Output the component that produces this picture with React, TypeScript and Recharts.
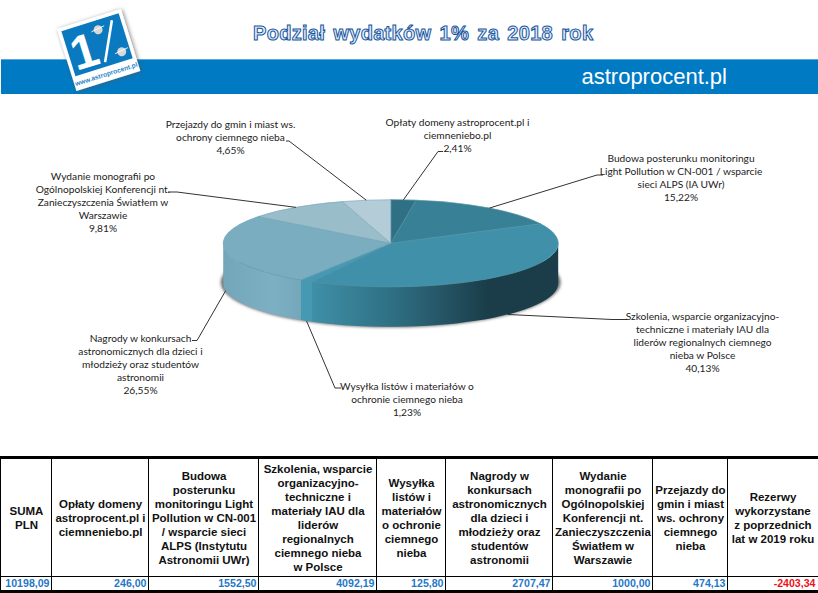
import * as React from 'react';
import { Pie, PieChart } from 'recharts';

const SLICE_NAMES = [
  'Opłaty domeny',
  'Budowa posterunku',
  'Szkolenia',
  'Wysyłka listów',
  'Nagrody',
  'Wydanie monografii',
  'Przejazdy',
];
const SLICE_VALUES = [246.0, 1552.5, 4092.19, 125.8, 2707.47, 1000.0, 474.13];
const SLICE_COLORS = ['#2f7085', '#388096', '#3f90a8', '#4599b3', '#7aadc0', '#9abdca', '#b4ccd7'];
const SLICE_LABELS = [
  ['Opłaty domeny astroprocent.pl i', 'ciemneniebo.pl', '2,41%'],
  ['Budowa posterunku monitoringu', 'Light Pollution w CN-001 / wsparcie', 'sieci ALPS (IA UWr)', '15,22%'],
  ['Szkolenia, wsparcie organizacyjno-', 'techniczne i materiały IAU dla', 'liderów regionalnych ciemnego', 'nieba w Polsce', '40,13%'],
  ['Wysyłka listów i materiałów o', 'ochronie ciemnego nieba', '1,23%'],
  ['Nagrody w konkursach', 'astronomicznych dla dzieci i', 'młodzieży oraz studentów', 'astronomii', '26,55%'],
  ['Wydanie monografii po', 'Ogólnopolskiej Konferencji nt.', 'Zanieczyszczenia Światłem w', 'Warszawie', '9,81%'],
  ['Przejazdy do gmin i miast ws.', 'ochrony ciemnego nieba', '4,65%'],
];

const TABLE_HEADERS = [
  ['SUMA', 'PLN'],
  ['Opłaty domeny', 'astroprocent.pl i', 'ciemneniebo.pl'],
  ['Budowa', 'posterunku', 'monitoringu Light', 'Pollution w CN-001', '/ wsparcie sieci', 'ALPS (Instytutu', 'Astronomii UWr)'],
  ['Szkolenia, wsparcie', 'organizacyjno-', 'techniczne i', 'materiały IAU dla', 'liderów', 'regionalnych', 'ciemnego nieba', 'w Polsce'],
  ['Wysyłka', 'listów i', 'materiałów', 'o ochronie', 'ciemnego', 'nieba'],
  ['Nagrody w', 'konkursach', 'astronomicznych', 'dla dzieci i', 'młodzieży oraz', 'studentów', 'astronomii'],
  ['Wydanie', 'monografii po', 'Ogólnopolskiej', 'Konferencji nt.', 'Zanieczyszczenia', 'Światłem w', 'Warszawie'],
  ['Przejazdy do', 'gmin i miast', 'ws. ochrony', 'ciemnego', 'nieba'],
  ['Rezerwy', 'wykorzystane', 'z poprzednich', 'lat w 2019 roku'],
];
const TABLE_VALUES = ['10198,09', '246,00', '1552,50', '4092,19', '125,80', '2707,47', '1000,00', '474,13', '-2403,34'];

// layout only: column edges of the table, label boxes and leader elbows
const COLUMN_EDGES = [1, 52, 149, 259, 377, 446, 553, 653, 728, 818];
const LABEL_CENTERS = [
  [457.5, 125.5],
  [681, 162],
  [702.5, 320],
  [407, 389.5],
  [140.5, 341.5],
  [103, 179.5],
  [230.5, 128],
];
const LEADER_ELBOWS = [
  [[438, 151.5], [443, 151.5]],
  [[597, 175], [603, 175]],
  [[612, 319.5], [627, 319.5]],
  [[335, 388], [341, 388]],
  [[197, 340.5], [192, 340.5]],
  [[177, 192], [168, 192]],
  [[289, 141], [286, 141]],
];

const PIE_CX = 390.7;
const PIE_CY = 243.3;
const PIE_R = 167.5;
const SQUASH = 0.26;
const DEPTH = 40;

const RAD = Math.PI / 180;
const px = (cx: number, r: number, a: number) => cx + r * Math.cos(a * RAD);
const py = (cy: number, r: number, a: number) => cy - r * SQUASH * Math.sin(a * RAD);

function wallFill(index: number, fill: string) {
  if (index === 2) return 'url(#wallDark)';
  if (index === 4) return 'url(#wallLight)';
  return fill;
}

// Pie sector squashed to an ellipse, with the front wall of the 3D disc under it
function renderSlice(props: any) {
  const { cx, cy, outerRadius: r, startAngle, endAngle, fill, index } = props;
  const large = Math.abs(startAngle - endAngle) > 180 ? 1 : 0;
  const ry = r * SQUASH;
  const top = `M${cx},${cy} L${px(cx, r, startAngle)},${py(cy, r, startAngle)} A${r},${ry} 0 ${large} 1 ${px(cx, r, endAngle)},${py(cy, r, endAngle)} Z`;

  const a0 = Math.min(startAngle, 0);
  const a1 = Math.max(endAngle, -180);
  let wall = null;
  if (a0 > a1) {
    const x0 = px(cx, r, a0);
    const y0 = py(cy, r, a0);
    const x1 = px(cx, r, a1);
    const y1 = py(cy, r, a1);
    wall = `M${x0},${y0} A${r},${ry} 0 0 1 ${x1},${y1} L${x1},${y1 + DEPTH} A${r},${ry} 0 0 0 ${x0},${y0 + DEPTH} Z`;
  }

  return (
    <g>
      {index === 0 && (
        <>
          <defs>
            <linearGradient id="wallDark" gradientUnits="userSpaceOnUse" x1={cx - 80} x2={cx + 97} y1="0" y2="0">
              <stop offset="0" stopColor="#3f90a8" />
              <stop offset="0.45" stopColor="#2f7084" />
              <stop offset="0.7" stopColor="#27596a" />
              <stop offset="1" stopColor="#1a3d49" />
            </linearGradient>
            <linearGradient id="wallLight" gradientUnits="userSpaceOnUse" x1={cx - r} x2={cx - 90} y1="0" y2="0">
              <stop offset="0" stopColor="#74a6b9" />
              <stop offset="0.65" stopColor="#7eb0c3" />
              <stop offset="1" stopColor="#74a7ba" />
            </linearGradient>
            <filter id="pieShadow" x="-10%" y="-30%" width="120%" height="160%">
              <feGaussianBlur stdDeviation="1.6" />
            </filter>
          </defs>
          <ellipse cx={cx} cy={cy + DEPTH - 1} rx={r + 2.5} ry={ry + 1.5} fill="#6e6e6e" filter="url(#pieShadow)" />
        </>
      )}
      {wall && <path d={wall} fill={wallFill(index, fill)} />}
      <path d={top} fill={fill} stroke={fill} strokeWidth={0.5} />
      <path d={top} fill="none" stroke="#5f98ac" strokeWidth={0.4} />
    </g>
  );
}

// leader runs from the disc rim at the slice middle to the elbow beside its text
function renderLabel(props: any) {
  const { cx, cy, outerRadius: r, midAngle, index } = props;
  const [lx, ly] = LABEL_CENTERS[index];
  const ax = px(cx, r, midAngle);
  const ay = py(cy, r, midAngle) + (Math.sin(midAngle * RAD) < 0 ? DEPTH : 0);
  const [e1, e2] = LEADER_ELBOWS[index];
  return (
    <g>
      <polyline
        points={`${ax},${ay} ${e1[0]},${e1[1]} ${e2[0]},${e2[1]}`}
        fill="none"
        stroke="#333"
        strokeWidth={1}
      />
      <text x={lx} y={ly} textAnchor="middle" fontFamily="Lato" fontSize={10.2} fill="#1c1c1c">
        {SLICE_LABELS[index].map((line, i) => (
          <tspan key={i} x={lx} dy={i === 0 ? 0 : 13}>
            {line}
          </tspan>
        ))}
      </text>
    </g>
  );
}

function Header() {
  return (
    <svg width={818} height={110} style={{ position: 'absolute', left: 0, top: 0 }}>
      <defs>
        <filter id="logoShadow" x="-20%" y="-20%" width="140%" height="140%">
          <feDropShadow dx="1" dy="1" stdDeviation="2.2" floodColor="#555" floodOpacity="0.7" />
        </filter>
      </defs>
      <rect x={1} y={59} width={817} height={35} fill="#007ac3" />
      <rect x={1} y={59} width={817} height={1} fill="#5aa9dc" />
      <text x={727} y={84} textAnchor="end" fontFamily="Liberation Sans" fontSize={22} fill="#fff">
        astroprocent.pl
      </text>
      <text
        x={253}
        y={40}
        fontFamily="Liberation Sans"
        fontWeight="bold"
        fontSize={20}
        fill="#e6edf6"
        stroke="#15569f"
        strokeWidth={1}
        wordSpacing={2.4}
        letterSpacing={0.3}
      >
        Podział wydatków 1% za 2018 rok
      </text>
      <g transform="translate(57,29) rotate(-17.4)">
        <rect x={0} y={0} width={67} height={65} fill="#fff" filter="url(#logoShadow)" />
        <rect x={3.5} y={3.5} width={60} height={47} fill="#0a79bf" />
        <text x={6} y={46} fontFamily="Liberation Sans" fontWeight="bold" fontSize={48} fill="#fff">
          1
        </text>
        <line x1={55} y1={8} x2={36} y2={46} stroke="#fff" strokeWidth={2.6} />
        <circle cx={39} cy={13} r={4.5} fill="#d8d8d8" />
        <line x1={32} y1={13} x2={46} y2={11} stroke="#fff" strokeWidth={0.8} />
        <circle cx={55} cy={41} r={4.5} fill="#d8d8d8" />
        <line x1={48} y1={41} x2={62} y2={39} stroke="#fff" strokeWidth={0.8} />
        <text x={33.5} y={60} textAnchor="middle" fontFamily="Liberation Sans" fontWeight="bold" fontSize={6.6} fill="#2a86c6">
          www.astroprocent.pl
        </text>
      </g>
    </svg>
  );
}

function BudgetTable() {
  const cellBorder = '1.5px solid #000';
  return (
    <div style={{ position: 'absolute', left: 0, top: 456, width: 818, height: 135 }}>
      <div style={{ position: 'absolute', left: 0, top: 0, width: 818, height: 3, background: '#000' }} />
      <div style={{ position: 'absolute', left: 0, top: 120, width: 818, borderTop: cellBorder }} />
      <div style={{ position: 'absolute', left: 0, top: 134, width: 818, height: 2.5, background: '#000' }} />
      {TABLE_HEADERS.map((lines, i) => {
        const left = COLUMN_EDGES[i];
        const width = COLUMN_EDGES[i + 1] - left;
        return (
          <React.Fragment key={i}>
            <div style={{ position: 'absolute', left: left - 1, top: 0, height: 135, borderLeft: cellBorder }} />
            <div
              style={{
                position: 'absolute',
                left,
                top: 3,
                width,
                height: 117,
                display: 'flex',
                flexDirection: 'column',
                justifyContent: 'center',
                textAlign: 'center',
                fontFamily: 'Liberation Sans',
                fontWeight: 'bold',
                fontSize: 11.5,
                lineHeight: '14px',
                color: '#111',
              }}
            >
              {lines.map((line, k) => (
                <div key={k} style={{ whiteSpace: 'nowrap' }}>
                  {line}
                </div>
              ))}
            </div>
            <div
              style={{
                position: 'absolute',
                left,
                top: 121,
                width: width - 2.5,
                height: 13,
                textAlign: 'right',
                fontFamily: 'Liberation Sans',
                fontWeight: 'bold',
                fontSize: 10.6,
                lineHeight: '13px',
                color: i === TABLE_VALUES.length - 1 ? '#f01020' : '#1f78c8',
              }}
            >
              {TABLE_VALUES[i]}
            </div>
          </React.Fragment>
        );
      })}
    </div>
  );
}

export default function App() {
  const pieData = SLICE_NAMES.map((name, i) => ({ name, value: SLICE_VALUES[i], fill: SLICE_COLORS[i] }));
  return (
    <div style={{ position: 'absolute', left: 0, top: 0, width: 818, height: 593, background: '#fff', overflow: 'hidden' }}>
      <Header />
      <div style={{ position: 'absolute', left: 0, top: 0 }}>
        <PieChart width={818} height={593} margin={{ top: 0, right: 0, bottom: 0, left: 0 }}>
          <Pie
            data={pieData}
            dataKey="value"
            nameKey="name"
            cx={PIE_CX}
            cy={PIE_CY}
            innerRadius={0}
            outerRadius={PIE_R}
            startAngle={90}
            endAngle={-270}
            stroke="none"
            shape={renderSlice}
            label={renderLabel}
            labelLine={false}
            isAnimationActive={false}
          />
        </PieChart>
      </div>
      <BudgetTable />
    </div>
  );
}
